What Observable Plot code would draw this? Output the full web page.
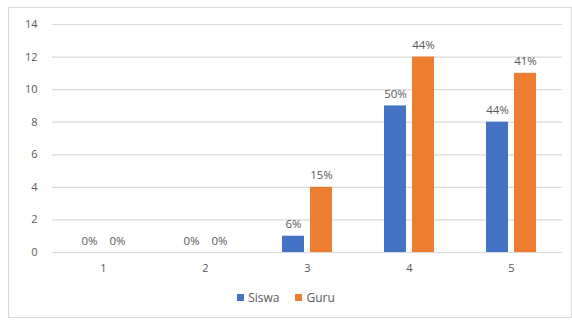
<!DOCTYPE html>
<html>
<head>
<meta charset="utf-8">
<script src="https://cdn.jsdelivr.net/npm/d3@7"></script>
<script src="https://cdn.jsdelivr.net/npm/@observablehq/plot@0.6"></script>
<style>
  body { margin: 0; background: #fff; font-family: "Open Sans", "Liberation Sans", sans-serif; }
  #wrap { position: relative; width: 572px; height: 320px; }
  #chart { position: absolute; left: 0; top: 0; }
  #frame { position: absolute; left: 8px; top: 7px; width: 562px; height: 309px; border: 1.5px solid #d9d9d9; pointer-events: none; }
  #legend { position: absolute; left: 0; width: 572px; top: 288px; text-align: center; font-size: 12px; color: #595959; }
  #legend span.item { display: inline-flex; align-items: center; margin: 0 8px; }
  #legend span.sw { display: inline-block; width: 7px; height: 7px; margin-right: 4px; }
</style>
</head>
<body>
<div id="wrap">
  <div id="chart"></div>
  <div id="frame"></div>
  <div id="legend"></div>
</div>
<script>
const categories = [1, 2, 3, 4, 5];
const series = ["Siswa", "Guru"];
const siswa = [0, 0, 1, 9, 8];
const guru = [0, 0, 4, 12, 11];
const siswaPct = ["0%", "0%", "6%", "50%", "44%"];
const guruPct = ["0%", "0%", "15%", "44%", "41%"];
const yTicks = [0, 2, 4, 6, 8, 10, 12, 14];
const colors = ["#4472C4", "#ED7D31"];

const data = [];
categories.forEach((c, i) => {
  data.push({cat: c, series: "Siswa", value: siswa[i], label: siswaPct[i]});
  data.push({cat: c, series: "Guru", value: guru[i], label: guruPct[i]});
});

const plot = Plot.plot({
  width: 572,
  height: 282,
  marginLeft: 50,
  marginRight: 9,
  marginTop: 24,
  marginBottom: 30,
  style: {fontFamily: "'Open Sans', 'Liberation Sans', sans-serif", fontSize: "11px", color: "#595959", background: "transparent"},
  fx: {domain: categories, padding: 0, label: null, axis: null},
  x: {domain: series, paddingInner: 0.2, paddingOuter: 0.87, axis: null},
  y: {domain: [0, 14], ticks: yTicks, label: null},
  color: {domain: series, range: colors},
  marks: [
    Plot.ruleY(yTicks, {stroke: "#d9d9d9", strokeWidth: 1.2}),
    Plot.axisY({ticks: yTicks, tickSize: 0, tickPadding: 15, label: null, fill: "#595959"}),
    Plot.axisFx({anchor: "bottom", tickSize: 0, tickPadding: 12, label: null, fill: "#595959"}),
    Plot.barY(data, {fx: "cat", x: "series", y: "value", fill: "series"}),
    Plot.text(data, {fx: "cat", x: "series", y: "value", text: "label", lineAnchor: "bottom", dy: -8, fill: "#595959", fontSize: 11.5})
  ]
});
document.getElementById("chart").appendChild(plot);

const legend = document.getElementById("legend");
series.forEach((s, i) => {
  const item = document.createElement("span");
  item.className = "item";
  const sw = document.createElement("span");
  sw.className = "sw";
  sw.style.background = colors[i];
  item.appendChild(sw);
  item.appendChild(document.createTextNode(s));
  legend.appendChild(item);
});
</script>
</body>
</html>
